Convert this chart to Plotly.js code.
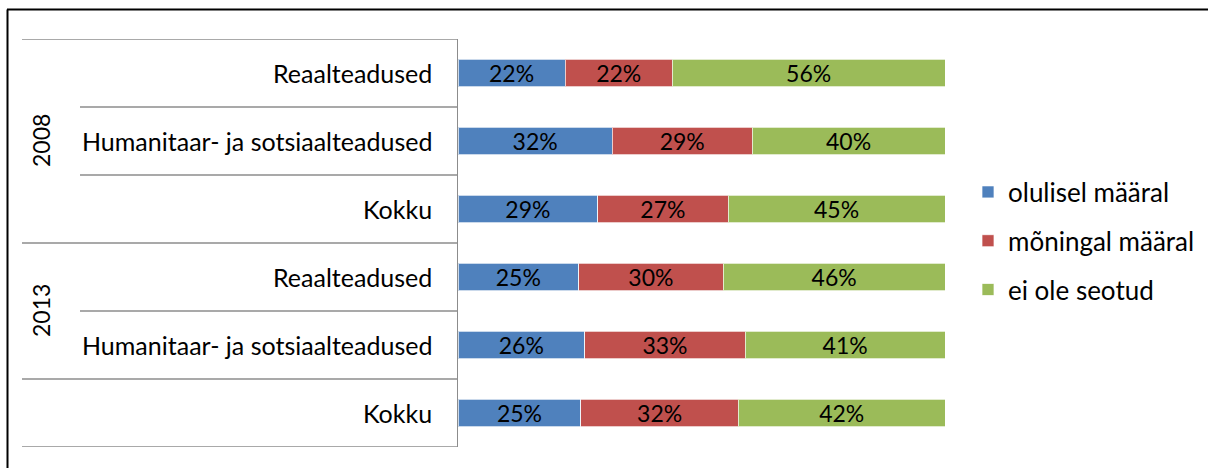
<!DOCTYPE html>
<html>
<head>
<meta charset="utf-8">
<script src="https://cdn.plot.ly/plotly-3.0.1.min.js"></script>
<style>html,body{margin:0;padding:0;background:#fff;}#chart{width:1208px;height:468px;}</style>
</head>
<body>
<div id="chart"></div>
<script>
// ---- data ----
const categories = ["Reaalteadused", "Humanitaar- ja sotsiaalteadused", "Kokku", "Reaalteadused", "Humanitaar- ja sotsiaalteadused", "Kokku"];
const rowKeys = ["2008 Reaalteadused", "2008 Humanitaar", "2008 Kokku", "2013 Reaalteadused", "2013 Humanitaar", "Kokku"];
const groupNames = ["2008", "2013", ""];
const groupFirst = [0, 3, 5];
const groupLast = [2, 4, 5];
const seriesNames = ["olulisel määral", "mõningal määral", "ei ole seotud"];
const olulisel = [22, 32, 29, 25, 26, 25];
const moningal = [22, 29, 27, 30, 33, 32];
const eiOle = [56, 40, 45, 46, 41, 42];
const colors = ["#4F81BD", "#C0504D", "#9BBB59"];

// ---- layout helpers (pixel geometry) ----
const W = 1208, H = 468;
const plotL = 458, plotR = 945, plotT = 39, plotB = 447;
const px = x => (x - plotL) / (plotR - plotL);
const py = y => (plotB - y) / (plotB - plotT);
const FONT = "Lato, 'Open Sans', sans-serif";

const seriesVals = [olulisel, moningal, eiOle];
const traces = seriesVals.map((vals, i) => ({
  type: "bar",
  orientation: "h",
  name: seriesNames[i],
  legendgroup: "g" + i,
  y: rowKeys,
  x: vals,
  text: vals.map(v => v + "%"),
  textposition: "inside",
  insidetextanchor: "middle",
  constraintext: "none",
  textfont: {color: "#000000", size: 23, family: FONT},
  marker: {color: colors[i], line: {color: "rgba(255,255,255,0.7)", width: 1}},
  hoverinfo: "skip"
}));

const shapes = [];
const annotations = [];
// category separators
const gray = "#8c8c8c";
const groupBounds = new Set();
groupFirst.forEach(f => groupBounds.add(f - 0.5));
groupLast.forEach(l => groupBounds.add(l + 0.5));
for (let k = -0.5; k <= categories.length - 0.5; k += 1) {
  const isGroup = groupBounds.has(k);
  shapes.push({type: "line", xref: "paper", yref: "y",
    x0: px(isGroup ? 22 : 80), x1: 0, y0: k, y1: k,
    line: {color: gray, width: 1.5}});
}
// category labels
categories.forEach((c, i) => {
  annotations.push({xref: "paper", yref: "y", x: px(434), y: i, text: c,
    xanchor: "right", yanchor: "middle", showarrow: false,
    font: {size: 25, color: "#000", family: FONT}});
});
// group labels
groupNames.forEach((g, i) => {
  if (!g) return;
  annotations.push({xref: "paper", yref: "y", x: px(41), y: (groupFirst[i] + groupLast[i]) / 2,
    text: g, textangle: -90, xanchor: "center", yanchor: "middle", showarrow: false,
    font: {size: 23, color: "#000", family: FONT}});
});
// outer frame (top & left edges visible)
shapes.push({type: "line", xref: "paper", yref: "paper", x0: px(7), x1: px(W + 2), y0: py(9.5), y1: py(9.5), line: {color: "#000", width: 2}});
shapes.push({type: "line", xref: "paper", yref: "paper", x0: px(7.5), x1: px(7.5), y0: py(9.5), y1: py(H + 2), line: {color: "#000", width: 2}});

const layout = {
  width: W, height: H,
  margin: {l: plotL, r: W - plotR, t: plotT, b: H - plotB, pad: 0, autoexpand: false},
  paper_bgcolor: "#fff", plot_bgcolor: "#fff",
  font: {family: FONT, color: "#000"},
  barmode: "stack",
  barnorm: "percent",
  bargap: 0.6,
  xaxis: {range: [0, 100], visible: false, fixedrange: true},
  yaxis: {type: "category", range: [categories.length - 0.5, -0.5], showticklabels: false,
    ticks: "", showgrid: false, zeroline: false, showline: true, linecolor: gray, linewidth: 1.5,
    fixedrange: true},
  showlegend: true,
  legend: {xref: "container", yref: "container", x: 968 / W, xanchor: "left", y: (H - 241) / H, yanchor: "middle",
    traceorder: "grouped", tracegroupgap: 12, font: {size: 26, family: FONT, color: "#000"},
    bgcolor: "rgba(0,0,0,0)"},
  shapes: shapes,
  annotations: annotations
};

Plotly.newPlot("chart", traces, layout, {displayModeBar: false, staticPlot: true});
</script>
</body>
</html>
